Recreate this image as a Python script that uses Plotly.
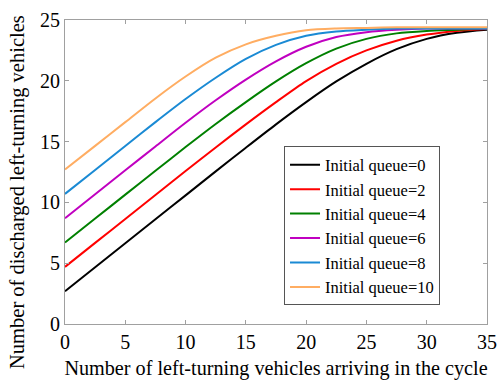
import plotly.graph_objects as go

# Arrivals in the cycle (x)
arrivals = [0, 2.5, 5, 7.5, 10, 12.5, 15, 17.5, 20, 22.5, 25, 27.5, 30, 32.5, 35]

# Discharged left-turning vehicles for each initial queue
queue_0 = [2.7, 4.67, 6.64, 8.61, 10.58, 12.55, 14.5, 16.42, 18.25, 19.95, 21.4, 22.6, 23.45, 23.95, 24.2]
queue_2 = [4.7, 6.67, 8.64, 10.61, 12.58, 14.52, 16.42, 18.25, 19.98, 21.4, 22.5, 23.3, 23.8, 24.1, 24.25]
queue_4 = [6.7, 8.67, 10.64, 12.6, 14.55, 16.45, 18.25, 19.95, 21.45, 22.65, 23.45, 23.9, 24.1, 24.2, 24.3]
queue_6 = [8.7, 10.67, 12.64, 14.6, 16.55, 18.4, 20.1, 21.6, 22.8, 23.6, 24.0, 24.2, 24.3, 24.3, 24.3]
queue_8 = [10.7, 12.67, 14.64, 16.6, 18.5, 20.25, 21.8, 22.95, 23.7, 24.05, 24.2, 24.3, 24.3, 24.3, 24.3]
queue_10 = [12.7, 14.65, 16.6, 18.55, 20.35, 21.9, 23.0, 23.7, 24.15, 24.3, 24.35, 24.4, 24.4, 24.4, 24.4]

series_names = ["Initial queue=0", "Initial queue=2", "Initial queue=4",
                "Initial queue=6", "Initial queue=8", "Initial queue=10"]
series_values = [queue_0, queue_2, queue_4, queue_6, queue_8, queue_10]
series_colors = ["#000000", "#ff0000", "#008000", "#c000c0", "#1a8ad4", "#ffad62"]

x_ticks = [0, 5, 10, 15, 20, 25, 30, 35]
y_ticks = [0, 5, 10, 15, 20, 25]

FONT = "Liberation Serif"

fig = go.Figure()
for name, vals, col in zip(series_names, series_values, series_colors):
    fig.add_trace(go.Scatter(
        x=arrivals, y=vals, name=name, mode="lines",
        line=dict(color=col, width=2, shape="spline", smoothing=0.8),
    ))

axis_common = dict(
    showline=True, linecolor="#a0a0a0", linewidth=1, mirror="ticks",
    ticks="inside", ticklen=4, tickcolor="#a0a0a0", tickwidth=1,
    showgrid=False, zeroline=False,
    tickfont=dict(family=FONT, size=20, color="black"),
)

fig.update_layout(
    width=498, height=382,
    margin=dict(l=65, r=11, t=20, b=58, autoexpand=False),
    paper_bgcolor="white", plot_bgcolor="white",
    font=dict(family=FONT, size=19, color="black"),
    xaxis=dict(range=[0, 35], tickvals=x_ticks,
               title=dict(text="Number of left-turning vehicles arriving in the cycle",
                          font=dict(family=FONT, size=20.2), standoff=8),
               **axis_common),
    yaxis=dict(range=[0, 25], tickvals=y_ticks, **axis_common),
    legend=dict(x=0.519, y=0.584, xanchor="left", yanchor="top",
                bgcolor="white", bordercolor="#555555", borderwidth=1,
                font=dict(family=FONT, size=16.5), itemwidth=30,
                tracegroupgap=0),
    showlegend=True,
    annotations=[dict(
        text="Number of discharged left-turning vehicles",
        xref="paper", yref="paper", x=-0.114, y=0.434,
        xanchor="center", yanchor="middle", textangle=-90,
        showarrow=False, font=dict(family=FONT, size=20.5, color="black"),
    )],
)

fig.write_html("out.html", config={"displayModeBar": False},
               post_script="document.body.style.margin='0px';document.body.style.padding='0px';")
